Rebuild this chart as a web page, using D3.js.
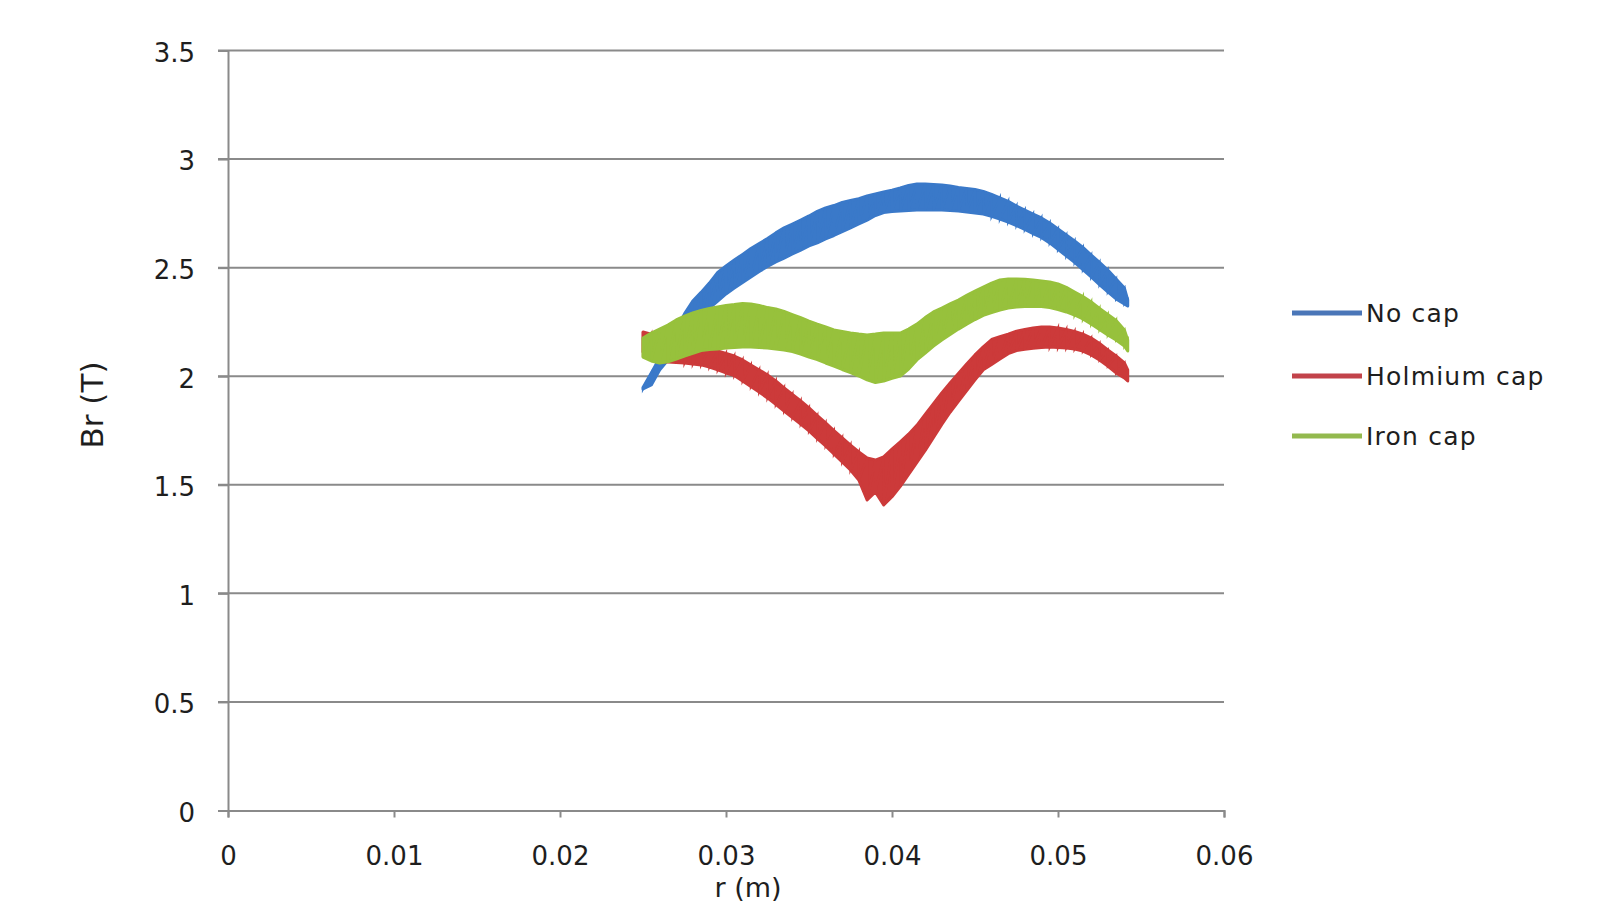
<!DOCTYPE html>
<html>
<head>
<meta charset="utf-8">
<script src="https://cdnjs.cloudflare.com/ajax/libs/d3/7.8.5/d3.min.js"></script>
<style>
  html, body { margin: 0; padding: 0; background: #fff; }
  svg { display: block; }
  text { font-family: "DejaVu Sans", sans-serif; fill: #1e1e1e; }
</style>
</head>
<body>
<svg id="chart" width="1609" height="903"></svg>
<script>
// Radial positions (m) at which Br was sampled
const radius = [
  0.0250, 0.0255, 0.0260, 0.0265, 0.0270, 0.0275, 0.0280, 0.0285, 0.0290, 0.0295,
  0.0300, 0.0305, 0.0310, 0.0315, 0.0320, 0.0325, 0.0330, 0.0335, 0.0340, 0.0345,
  0.0350, 0.0355, 0.0360, 0.0365, 0.0370, 0.0375, 0.0380, 0.0385, 0.0390, 0.0395,
  0.0400, 0.0405, 0.0410, 0.0415, 0.0420, 0.0425, 0.0430, 0.0435, 0.0440, 0.0445,
  0.0450, 0.0455, 0.0460, 0.0465, 0.0470, 0.0475, 0.0480, 0.0485, 0.0490, 0.0495,
  0.0500, 0.0505, 0.0510, 0.0515, 0.0520, 0.0525, 0.0530, 0.0535, 0.0540, 0.0542
];

// Br (T), upper and lower envelope of the oscillating trace, per configuration
const noCapHigh = [
  1.948, 2.015, 2.084, 2.151, 2.219, 2.287, 2.346, 2.386, 2.429, 2.478,
  2.508, 2.535, 2.561, 2.588, 2.611, 2.634, 2.660, 2.683, 2.701, 2.719,
  2.738, 2.759, 2.775, 2.786, 2.800, 2.809, 2.818, 2.830, 2.839, 2.848,
  2.857, 2.867, 2.878, 2.885, 2.885, 2.883, 2.881, 2.876, 2.869, 2.865,
  2.860, 2.851, 2.837, 2.821, 2.805, 2.784, 2.765, 2.747, 2.729, 2.706,
  2.678, 2.650, 2.623, 2.593, 2.558, 2.524, 2.489, 2.448, 2.406, 2.351
];
const noCapLow = [
  1.941, 1.960, 2.029, 2.075, 2.132, 2.188, 2.240, 2.280, 2.314, 2.346,
  2.379, 2.406, 2.432, 2.457, 2.482, 2.505, 2.526, 2.544, 2.563, 2.581,
  2.600, 2.614, 2.632, 2.648, 2.666, 2.683, 2.701, 2.719, 2.740, 2.754,
  2.759, 2.761, 2.763, 2.765, 2.765, 2.765, 2.765, 2.763, 2.761, 2.756,
  2.752, 2.747, 2.736, 2.724, 2.710, 2.694, 2.676, 2.657, 2.639, 2.614,
  2.584, 2.554, 2.524, 2.491, 2.457, 2.422, 2.388, 2.356, 2.333, 2.323
];
const holmiumHigh = [
  2.204, 2.194, 2.185, 2.176, 2.167, 2.158, 2.148, 2.139, 2.128, 2.116,
  2.105, 2.093, 2.075, 2.052, 2.029, 2.006, 1.978, 1.946, 1.916, 1.886,
  1.854, 1.819, 1.785, 1.750, 1.716, 1.683, 1.651, 1.623, 1.614, 1.629,
  1.664, 1.698, 1.733, 1.774, 1.824, 1.873, 1.923, 1.969, 2.013, 2.056,
  2.098, 2.135, 2.169, 2.182, 2.194, 2.207, 2.215, 2.222, 2.227, 2.227,
  2.222, 2.215, 2.206, 2.194, 2.176, 2.151, 2.121, 2.093, 2.061, 2.029
];
const holmiumLow = [
  2.112, 2.075, 2.068, 2.066, 2.063, 2.061, 2.056, 2.052, 2.042, 2.029,
  2.015, 2.003, 1.978, 1.953, 1.927, 1.900, 1.870, 1.840, 1.810, 1.780,
  1.748, 1.713, 1.679, 1.642, 1.605, 1.568, 1.522, 1.430, 1.467, 1.407,
  1.445, 1.493, 1.548, 1.603, 1.658, 1.718, 1.778, 1.834, 1.884, 1.934,
  1.983, 2.030, 2.054, 2.079, 2.104, 2.118, 2.124, 2.129, 2.132, 2.135,
  2.132, 2.130, 2.125, 2.116, 2.098, 2.075, 2.047, 2.015, 1.992, 1.978
];
const ironHigh = [
  2.176, 2.199, 2.217, 2.236, 2.259, 2.277, 2.291, 2.303, 2.312, 2.319,
  2.326, 2.330, 2.335, 2.333, 2.326, 2.316, 2.310, 2.298, 2.284, 2.270,
  2.254, 2.240, 2.227, 2.213, 2.206, 2.199, 2.194, 2.190, 2.194, 2.199,
  2.199, 2.199, 2.217, 2.240, 2.270, 2.296, 2.314, 2.333, 2.351, 2.372,
  2.392, 2.411, 2.429, 2.443, 2.448, 2.448, 2.446, 2.443, 2.439, 2.434,
  2.425, 2.409, 2.388, 2.367, 2.342, 2.312, 2.284, 2.257, 2.213, 2.167
];
const ironLow = [
  2.088, 2.070, 2.061, 2.066, 2.079, 2.093, 2.105, 2.118, 2.123, 2.125,
  2.130, 2.132, 2.135, 2.135, 2.132, 2.130, 2.125, 2.121, 2.114, 2.102,
  2.088, 2.077, 2.061, 2.047, 2.031, 2.017, 2.001, 1.983, 1.971, 1.978,
  1.990, 2.001, 2.033, 2.075, 2.107, 2.139, 2.167, 2.192, 2.217, 2.240,
  2.261, 2.280, 2.293, 2.305, 2.314, 2.319, 2.321, 2.321, 2.321, 2.316,
  2.307, 2.296, 2.282, 2.264, 2.240, 2.215, 2.190, 2.167, 2.139, 2.116
];

const seriesNames = ["No cap", "Holmium cap", "Iron cap"];
const seriesColors = ["#3a79c9", "#cc3a3a", "#97c13c"];
const legendColors = ["#4a76b8", "#c2434a", "#93b94e"];

const xTicks = [0, 0.01, 0.02, 0.03, 0.04, 0.05, 0.06];
const xTickLabels = ["0", "0.01", "0.02", "0.03", "0.04", "0.05", "0.06"];
const yTicks = [0, 0.5, 1, 1.5, 2, 2.5, 3, 3.5];
const yTickLabels = ["0", "0.5", "1", "1.5", "2", "2.5", "3", "3.5"];

const series = [
  { name: seriesNames[0], color: seriesColors[0], legend: legendColors[0], hi: noCapHigh, lo: noCapLow },
  { name: seriesNames[1], color: seriesColors[1], legend: legendColors[1], hi: holmiumHigh, lo: holmiumLow },
  { name: seriesNames[2], color: seriesColors[2], legend: legendColors[2], hi: ironHigh, lo: ironLow }
];

const svg = d3.select("#chart");
const plot = { left: 228, right: 1224, top: 50.5, bottom: 810.5 };

const x = d3.scaleLinear().domain([0, 0.06]).range([plot.left, plot.right]);
const y = d3.scaleLinear().domain([0, 3.5]).range([plot.bottom, plot.top]);

// horizontal gridlines
svg.append("g")
  .selectAll("line")
  .data(yTicks.filter(v => v > 0))
  .join("line")
  .attr("x1", plot.left - 10)
  .attr("x2", plot.right)
  .attr("y1", d => y(d))
  .attr("y2", d => y(d))
  .attr("stroke", "#8a8a8a")
  .attr("stroke-width", 2);

// y axis
const yAxis = svg.append("g")
  .attr("transform", `translate(${plot.left},0)`)
  .call(d3.axisLeft(y)
    .tickValues(yTicks)
    .tickFormat((d, i) => yTickLabels[i])
    .tickSize(10)
    .tickPadding(23));
yAxis.select(".domain").attr("stroke", "#8a8a8a").attr("stroke-width", 2);
yAxis.selectAll(".tick line").attr("stroke", "#8a8a8a").attr("stroke-width", 2);
yAxis.selectAll(".tick text")
  .attr("font-size", 26)
  .attr("dy", "0.42em")
  .style("font-family", "'DejaVu Sans', sans-serif")
  .attr("fill", "#1e1e1e");

// x axis
const xAxis = svg.append("g")
  .attr("transform", `translate(0,${plot.bottom})`)
  .call(d3.axisBottom(x)
    .tickValues(xTicks)
    .tickFormat((d, i) => xTickLabels[i])
    .tickSize(7)
    .tickPadding(29));
xAxis.select(".domain").attr("stroke", "#8a8a8a").attr("stroke-width", 2);
xAxis.selectAll(".tick line").attr("stroke", "#8a8a8a").attr("stroke-width", 2);
xAxis.selectAll(".tick text")
  .attr("font-size", 26)
  .style("font-family", "'DejaVu Sans', sans-serif")
  .attr("fill", "#1e1e1e");

// axis titles
svg.append("text")
  .attr("x", 748)
  .attr("y", 897)
  .attr("text-anchor", "middle")
  .attr("font-size", 27)
  .text("r (m)");

svg.append("text")
  .attr("transform", "translate(103,405) rotate(-90)")
  .attr("text-anchor", "middle")
  .attr("font-size", 31)
  .text("Br (T)");

// traces: filled envelope plus the zig-zag of the sampled values
const area = d3.area()
  .x((d, i) => x(radius[i]))
  .y0(d => y(d[1]))
  .y1(d => y(d[0]));

const line = d3.line()
  .x(d => x(d[0]))
  .y(d => y(d[1]));

series.forEach(s => {
  const pairs = radius.map((r, i) => [s.hi[i], s.lo[i]]);
  const zig = [];
  radius.forEach((r, i) => {
    zig.push([r, s.hi[i]]);
    zig.push([r, s.lo[i]]);
  });
  const g = svg.append("g").attr("class", "series");
  g.append("path")
    .attr("d", area(pairs))
    .attr("fill", s.color)
    .attr("stroke", s.color)
    .attr("stroke-width", 3)
    .attr("stroke-linejoin", "round");
  g.append("path")
    .attr("d", line(zig))
    .attr("fill", "none")
    .attr("stroke", s.color)
    .attr("stroke-width", 2.2)
    .attr("stroke-linejoin", "miter")
    .attr("stroke-miterlimit", 5);
});

// legend
const legendY = [313, 376, 436];
const legend = svg.append("g");
series.forEach((s, i) => {
  legend.append("line")
    .attr("x1", 1292).attr("x2", 1362)
    .attr("y1", legendY[i]).attr("y2", legendY[i])
    .attr("stroke", s.legend)
    .attr("stroke-width", 5);
  legend.append("text")
    .attr("x", 1366)
    .attr("y", legendY[i] + 9)
    .attr("font-size", 25)
    .attr("letter-spacing", 1.2)
    .text(s.name);
});
</script>
</body>
</html>
